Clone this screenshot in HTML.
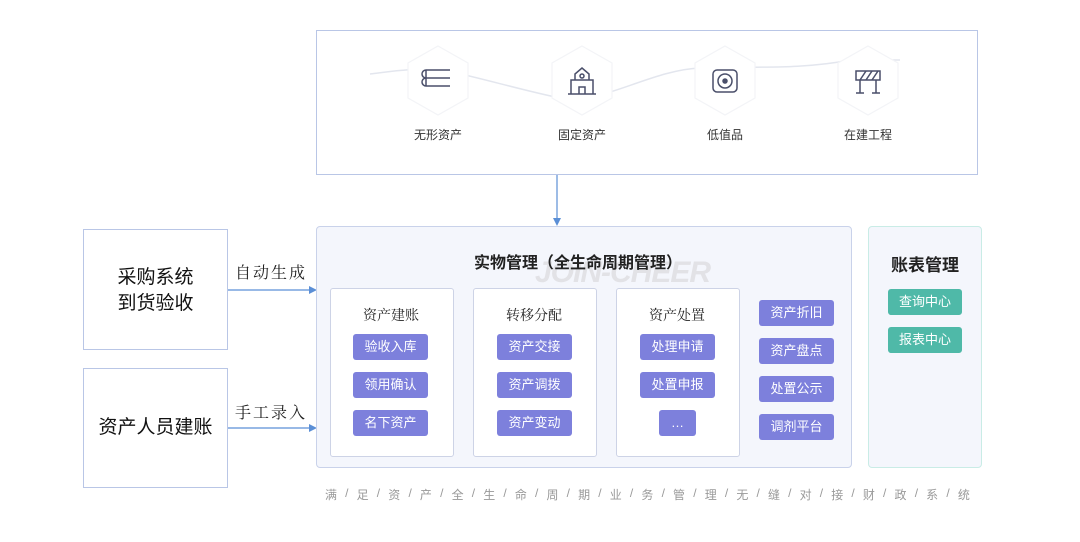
<!DOCTYPE html>
<html><head><meta charset="utf-8"><style>
body{margin:0;width:1080px;height:542px;background:#fff;position:relative;overflow:hidden;font-family:"Liberation Sans","Noto Sans CJK SC",sans-serif;}
.a{position:absolute;box-sizing:border-box;}
.box{border:1.5px solid #b9c6e6;}
.btn{position:absolute;width:75px;height:26px;background:#7d80dc;color:#fff;font-size:13px;line-height:26px;text-align:center;border-radius:3px;}
.tb{background:#4fb9a8;width:74px;}
.sub{position:absolute;top:288px;width:122px;height:167px;background:#fff;border:1px solid #cdd3e6;border-radius:3px;}
.st{position:absolute;top:305px;width:122px;text-align:center;font-family:"Noto Serif CJK SC",serif;font-size:14px;color:#222;}
.lbl{position:absolute;font-size:12px;color:#333;text-align:center;width:80px;}
.ser{font-family:"Noto Serif CJK SC",serif;}
</style></head><body>
<div class="a box" style="left:316px;top:30px;width:662px;height:145px;"></div>
<svg class="a" style="left:0;top:0" width="1080" height="542">
<path d="M370 74 C 400 70,420 68,440 70 S 520 90,560 98 S 650 70,700 68 S 800 70,850 60 L 900 60" stroke="#e3e6ee" stroke-width="1.5" fill="none"/>
<g fill="#fff" stroke="#f3f4f7" stroke-width="1.2">
<polygon points="438,46 468,63 468,98 438,115 408,98 408,63"/>
<polygon points="582,46 612,63 612,98 582,115 552,98 552,63"/>
<polygon points="725,46 755,63 755,98 725,115 695,98 695,63"/>
<polygon points="868,46 898,63 898,98 868,115 838,98 838,63"/>
</g>
<g stroke="#4a4f6a" stroke-width="1.5" fill="none">
<path d="M426 70h24M424 78h26M426 86h24M426 70v16M426 78a4 4 0 0 1 0-8M426 86a4 4 0 0 1 0-8"/>
<path d="M568 94h28M571 94v-14h22v14M575 80v-6l7-6 7 6v6M579 94v-7h6v7"/><circle cx="582" cy="76" r="2"/>
<rect x="713" y="70" width="24" height="22" rx="4"/><circle cx="725" cy="81" r="7"/><circle cx="725" cy="81" r="2" fill="#4a4f6a"/>
<rect x="856" y="71" width="24" height="9"/><path d="M860 80l6-9M866 80l6-9M872 80l6-9M860 80v13M876 80v13M856 93h8M872 93h8"/>
</g>
<g stroke="#5b8fd6" stroke-width="1.2" fill="#5b8fd6">
<line x1="557" y1="175" x2="557" y2="220"/><polygon points="553,218 561,218 557,226" stroke="none"/>
<line x1="228" y1="290" x2="310" y2="290"/><polygon points="309,286 317,290 309,294" stroke="none"/>
<line x1="228" y1="428" x2="310" y2="428"/><polygon points="309,424 317,428 309,432" stroke="none"/>
</g>
<g stroke="#7d80dc" stroke-width="1.5" fill="#7d80dc">
<line x1="452" y1="313" x2="466" y2="313"/><polygon points="465,309 472,313 465,317" stroke="none"/>
<line x1="595" y1="313" x2="609" y2="313"/><polygon points="608,309 615,313 608,317" stroke="none"/>
<line x1="738" y1="313" x2="752" y2="313"/><polygon points="751,309 758,313 751,317" stroke="none"/>
</g>
</svg>
<div class="lbl" style="left:398px;top:126px;">无形资产</div>
<div class="lbl" style="left:542px;top:126px;">固定资产</div>
<div class="lbl" style="left:685px;top:126px;">低值品</div>
<div class="lbl" style="left:828px;top:126px;">在建工程</div>
<div class="a box" style="left:83px;top:229px;width:145px;height:121px;font-size:19px;text-align:center;padding-top:35px;line-height:26px;color:#111;">采购系统<br>到货验收</div>
<div class="a box" style="left:83px;top:368px;width:145px;height:120px;font-size:19px;text-align:center;line-height:118px;color:#111;">资产人员建账</div>
<div class="a ser" style="left:235px;top:260px;font-size:16px;letter-spacing:2px;color:#222;">自动生成</div>
<div class="a ser" style="left:235px;top:400px;font-size:16px;letter-spacing:2px;color:#222;">手工录入</div>
<div class="a" style="left:316px;top:226px;width:536px;height:242px;background:#f4f6fc;border:1px solid #c9d2ea;border-radius:4px;"></div>
<div class="a" style="left:535px;top:256px;font-size:30px;font-weight:bold;color:#e2e2e6;font-style:italic;letter-spacing:-1px;">JOIN-CHEER</div>
<div class="a" style="left:474px;top:249px;font-size:16px;font-weight:bold;color:#222;">实物管理（全生命周期管理）</div>
<div class="a" style="left:868px;top:226px;width:114px;height:242px;background:#f4f6fc;border:1px solid #c9ece6;border-radius:4px;"></div>
<div class="a" style="left:868px;top:251px;width:114px;text-align:center;font-size:17px;font-weight:bold;color:#222;">账表管理</div>
<div class="sub" style="left:330px"></div><div class="sub" style="left:473px"></div><div class="sub" style="left:616px"></div>
<div class="st" style="left:330px">资产建账</div><div class="st" style="left:473px">转移分配</div><div class="st" style="left:616px">资产处置</div>
<div class="btn" style="left:353px;top:334px">验收入库</div>
<div class="btn" style="left:353px;top:372px">领用确认</div>
<div class="btn" style="left:353px;top:410px">名下资产</div>
<div class="btn" style="left:497px;top:334px">资产交接</div>
<div class="btn" style="left:497px;top:372px">资产调拨</div>
<div class="btn" style="left:497px;top:410px">资产变动</div>
<div class="btn" style="left:640px;top:334px">处理申请</div>
<div class="btn" style="left:640px;top:372px">处置申报</div>
<div class="btn" style="left:659px;top:410px;width:37px">…</div>
<div class="btn" style="left:759px;top:300px">资产折旧</div>
<div class="btn" style="left:759px;top:338px">资产盘点</div>
<div class="btn" style="left:759px;top:376px">处置公示</div>
<div class="btn" style="left:759px;top:414px">调剂平台</div>
<div class="btn tb" style="left:888px;top:289px">查询中心</div>
<div class="btn tb" style="left:888px;top:327px">报表中心</div>
<div class="a" style="left:325px;top:486px;width:645px;font-size:12px;color:#999;display:flex;justify-content:space-between;white-space:nowrap;">
<span>满</span><span>/</span><span>足</span><span>/</span><span>资</span><span>/</span><span>产</span><span>/</span><span>全</span><span>/</span><span>生</span><span>/</span><span>命</span><span>/</span><span>周</span><span>/</span><span>期</span><span>/</span><span>业</span><span>/</span><span>务</span><span>/</span><span>管</span><span>/</span><span>理</span><span>/</span><span>无</span><span>/</span><span>缝</span><span>/</span><span>对</span><span>/</span><span>接</span><span>/</span><span>财</span><span>/</span><span>政</span><span>/</span><span>系</span><span>/</span><span>统</span></div>
</body></html>
